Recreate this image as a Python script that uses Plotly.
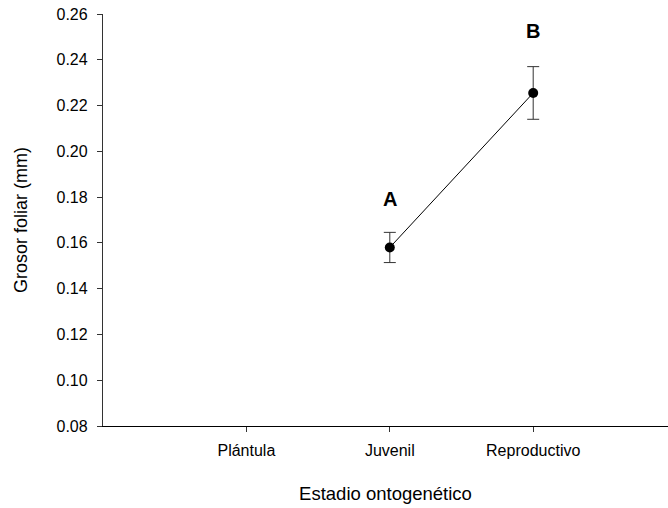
import plotly.graph_objects as go

# Leaf thickness by ontogenetic stage
stages = ["Plántula", "Juvenil", "Reproductivo"]
mean_thickness = [None, 0.158, 0.2255]
error_thickness = [None, 0.0066, 0.0115]
group_letters = ["", "A", "B"]
letter_y = [None, 0.179, 0.2526]

fig = go.Figure()
fig.add_trace(go.Scatter(
    x=stages,
    y=mean_thickness,
    mode="lines+markers",
    line=dict(color="black", width=1),
    marker=dict(color="black", size=10),
    error_y=dict(type="data", array=error_thickness, visible=True,
                 color="#333333", thickness=1, width=6),
    showlegend=False,
))

for stage, letter, ly in zip(stages, group_letters, letter_y):
    if letter:
        fig.add_annotation(x=stage, y=ly, text=f"<b>{letter}</b>",
                           showarrow=False, font=dict(size=20, color="black"))

font_family = "Liberation Sans, Arial, sans-serif"
fig.update_layout(
    width=668, height=508,
    margin=dict(l=103, r=0, t=14, b=82),
    paper_bgcolor="white", plot_bgcolor="white",
    font=dict(family=font_family, color="black"),
)
fig.update_xaxes(
    type="category", categoryorder="array", categoryarray=stages,
    range=[-1, 2.94], automargin=False,
    showline=True, linecolor="black", linewidth=1.3,
    ticks="outside", ticklen=5, tickcolor="#333333",
    showgrid=False, zeroline=False,
    tickfont=dict(size=16), ticklabelstandoff=5,
    title=dict(text="Estadio ontogenético", font=dict(size=18.5), standoff=28),
)
fig.update_yaxes(
    range=[0.08, 0.26], dtick=0.02, tick0=0.08, tickformat=".2f",
    automargin=False,
    showline=True, linecolor="#333333", linewidth=1.3,
    ticks="outside", ticklen=5, tickcolor="#333333",
    showgrid=False, zeroline=False,
    tickfont=dict(size=16), ticklabelstandoff=6,
    title=dict(text="Grosor foliar (mm)", font=dict(size=18), standoff=24),
)

fig.write_html("out.html")
